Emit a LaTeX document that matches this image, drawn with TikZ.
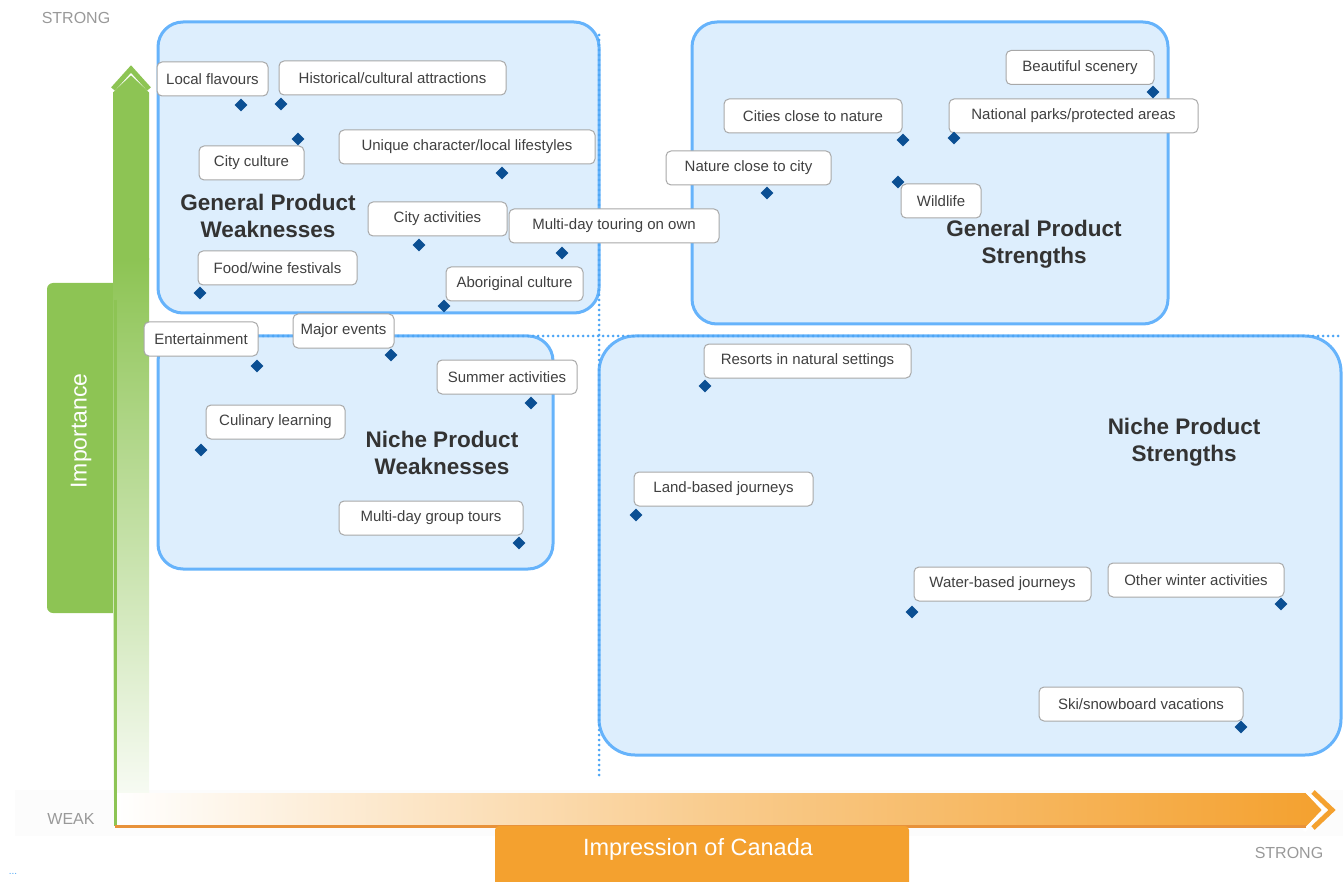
\documentclass[tikz,border=0pt]{standalone}
\usepackage{fontspec}
\setmainfont{Liberation Sans}
\usetikzlibrary{shapes.geometric}
\definecolor{boxfill}{HTML}{DDEEFD}
\definecolor{boxline}{HTML}{66B3FB}
\definecolor{dotline}{HTML}{4DA6F5}
\definecolor{diam}{HTML}{0B4F93}
\definecolor{lblline}{HTML}{A8A8A8}
\definecolor{lbltext}{HTML}{404040}
\definecolor{titletext}{HTML}{333333}
\definecolor{axgreen}{HTML}{8DC454}
\definecolor{axorange}{HTML}{F4A12F}
\definecolor{axorangedark}{HTML}{E8923A}
\definecolor{axgray}{HTML}{999999}
\tikzset{
  quadbox/.style={fill=boxfill, draw=boxline, line width=3pt, rounded corners=25pt},
  lbl/.style={draw=lblline, fill=white, line width=1pt, rounded corners=5pt, text=lbltext,
    font=\fontsize{15}{17}\selectfont, minimum height=34pt, inner sep=0pt},
  pt/.style={diamond, fill=diam, minimum size=13pt, inner sep=0pt},
  qtitle/.style={align=center, text=titletext, font=\fontsize{22.5}{27}\selectfont\bfseries},
  axlbl/.style={text=axgray, font=\fontsize{16}{18}\selectfont},
  divider/.style={dotline, line width=3pt, line cap=round, dash pattern=on 0pt off 5pt}
}
\begin{document}
\begin{tikzpicture}[x=1pt,y=-1pt]
\useasboundingbox (0,0) rectangle (1343,882);
% faint strip behind horizontal axis
\fill[gray!2] (15,790) rectangle (1343,836);
% Importance box
\fill[axgreen, rounded corners=6pt] (47,283) -- (120,283) -- (120,613) -- (47,613) -- cycle;
\node[text=white, rotate=90, font=\fontsize{23}{26}\selectfont] (imp) at (81,431) {Importance};
% vertical shaft
\fill[axgreen] (113,260) -- (113,92) -- (131,75) -- (149,92) -- (149,260) -- cycle;
\shade[top color=axgreen, bottom color=axgreen!6]
  (113,259) rectangle (149,800);
\draw[white, line width=3pt] (110,93) -- (131,73) -- (152,93);
\draw[axgreen, line width=5pt, miter limit=10] (113,89) -- (131,69) -- (149,89);
% horizontal shaft
\shade[left color=white, right color=axorange, middle color=axorange!55]
  (115,793) -- (1306,793) -- (1322,810) -- (1306,827) -- (115,827) -- cycle;
\draw[white, line width=3pt] (1304,789) -- (1324,810) -- (1304,831);
\draw[axorange, line width=5pt, miter limit=10] (1313,792) -- (1332,810) -- (1313,828);
% axis lines
\draw[axgreen, line width=3pt] (115,300) -- (115,826);
\draw[axorangedark, line width=3pt] (115,826) -- (1306,826);
% Impression box
\fill[axorange, rounded corners=4pt] (495,826) -- (909,826) -- (909,890) -- (495,890) -- cycle;
\node[text=white, font=\fontsize{23.5}{26}\selectfont] (impr) at (698,849) {Impression of Canada};
% axis end labels
\node[axlbl] (strongtop) at (76,18) {STRONG};
\node[axlbl] (weak) at (71,819) {WEAK};
\node[axlbl] (strongright) at (1289,853) {STRONG};
\node[text=dotline, font=\fontsize{10}{12}\selectfont] (dots) at (13,874) {...};
% quadrant boxes
\draw[quadbox] (158,22) rectangle (599,313);
\draw[quadbox] (692,22) rectangle (1168,324);
\draw[quadbox] (158,336) rectangle (553,569);
\draw[quadbox, rounded corners=36pt] (599,336) rectangle (1341,755);
% dividers
\draw[divider] (599,35) -- (599,778);
\draw[divider] (158,336) -- (1341,336);
% titles
\node[qtitle] (gpw) at (268,216) {General Product\\Weaknesses};
\node[qtitle] (gps) at (1034,244) {General Product\\Strengths};
\node[qtitle] (npw) at (442,453) {Niche Product\\Weaknesses};
\node[qtitle] (nps) at (1184,442) {Niche Product\\Strengths};
% General Product Weaknesses
\node[lbl, minimum width=111pt] (l1) at (212.5,79) {Local flavours};
\node[lbl, minimum width=227pt] (l2) at (392.5,78) {Historical/cultural attractions};
\node[lbl, minimum width=105pt] (l3) at (251.5,163) {City culture};
\node[lbl, minimum width=256pt] (l4) at (467,147) {Unique character/local lifestyles};
\node[lbl, minimum width=139pt] (l5) at (437.5,219) {City activities};
\node[lbl, minimum width=210pt] (l6) at (614,226) {Multi-day touring on own};
\node[lbl, minimum width=159pt] (l7) at (277.5,268) {Food/wine festivals};
\node[lbl, minimum width=137pt] (l8) at (514.5,284) {Aboriginal culture};
\node[pt] (d1) at (241,105) {};
\node[pt] (d2) at (281,104) {};
\node[pt] (d3) at (298,139) {};
\node[pt] (d4) at (502,173) {};
\node[pt] (d5) at (419,245) {};
\node[pt] (d6) at (562,253) {};
\node[pt] (d7) at (200,293) {};
\node[pt] (d8) at (444,306) {};
% General Product Strengths
\node[lbl, minimum width=148pt] (s1) at (1080,67.5) {Beautiful scenery};
\node[lbl, minimum width=178pt] (s2) at (813,116) {Cities close to nature};
\node[lbl, minimum width=249pt] (s3) at (1073.5,116) {National parks/protected areas};
\node[lbl, minimum width=165pt] (s4) at (748.5,168) {Nature close to city};
\node[pt] (e5) at (898,182) {};
\node[lbl, minimum width=80pt] (s5) at (941,201) {Wildlife};
\node[pt] (e1) at (1153,92) {};
\node[pt] (e2) at (903,140) {};
\node[pt] (e3) at (954,138) {};
\node[pt] (e4) at (767,193) {};
% Niche Product Weaknesses
\node[lbl, minimum width=114pt] (n1) at (201,339) {Entertainment};
\node[lbl, minimum width=101pt] (n2) at (343.5,331) {Major events};
\node[lbl, minimum width=140pt] (n3) at (507,377) {Summer activities};
\node[lbl, minimum width=139pt] (n4) at (275.5,422) {Culinary learning};
\node[lbl, minimum width=184pt] (n5) at (431,518) {Multi-day group tours};
\node[pt] (f1) at (257,366) {};
\node[pt] (f2) at (391,355) {};
\node[pt] (f3) at (531,403) {};
\node[pt] (f4) at (201,450) {};
\node[pt] (f5) at (519,543) {};
% Niche Product Strengths
\node[lbl, minimum width=207pt] (m1) at (807.5,361) {Resorts in natural settings};
\node[lbl, minimum width=179pt] (m2) at (723.5,489) {Land-based journeys};
\node[lbl, minimum width=177pt] (m3) at (1002.5,584) {Water-based journeys};
\node[lbl, minimum width=176pt] (m4) at (1196,580) {Other winter activities};
\node[lbl, minimum width=204pt] (m5) at (1141,704) {Ski/snowboard vacations};
\node[pt] (g1) at (705,386) {};
\node[pt] (g2) at (636,515) {};
\node[pt] (g3) at (912,612) {};
\node[pt] (g4) at (1281,604) {};
\node[pt] (g5) at (1241,727) {};
\end{tikzpicture}
\end{document}
